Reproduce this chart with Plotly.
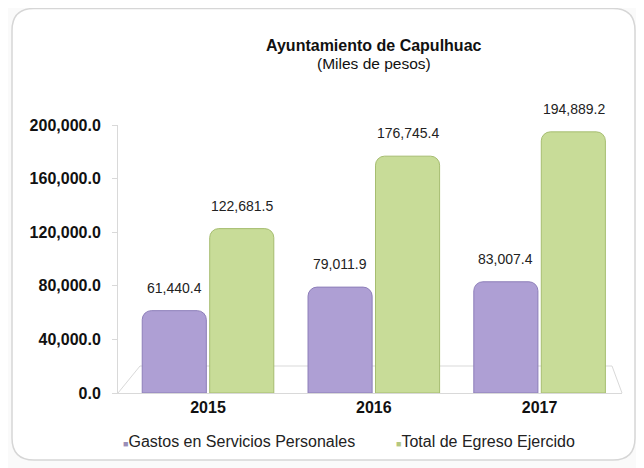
import plotly.graph_objects as go

years = ["2015", "2016", "2017"]
gastos = [61440.4, 79011.9, 83007.4]
total = [122681.5, 176745.4, 194889.2]
gastos_labels = ["61,440.4", "79,011.9", "83,007.4"]
total_labels = ["122,681.5", "176,745.4", "194,889.2"]
y_ticks = [0, 40000, 80000, 120000, 160000, 200000]
y_tick_text = ["0.0", "40,000.0", "80,000.0", "120,000.0", "160,000.0", "200,000.0"]
series_names = ["Gastos en Servicios Personales", "Total de Egreso Ejercido"]
colors = ["#ae9fd4", "#c8dc98"]
edge_colors = ["#8d7eb9", "#a6bd70"]
legend_sq_colors = ["#9a8fb8", "#b5c77f"]

FONT = "Arial, Liberation Sans, sans-serif"
W, H = 644, 468
OFF = 8  # page body margin: screen px = figure px + OFF
SX0, SX1, SY0, SY1 = 118, 622, 125, 393
L, R = SX0 - OFF, W - (SX1 - OFF)
T, B = SY0 - OFF, H - (SY1 - OFF)
PW, PH = SX1 - SX0, SY1 - SY0


def xp(sx):
    return (sx - SX0) / PW


def yp(sy):
    return (SY1 - sy) / PH


fig = go.Figure()
for vals, labels, name, col, ecol, shift in [
    (gastos, gastos_labels, series_names[0], colors[0], edge_colors[0], -34),
    (total, total_labels, series_names[1], colors[1], edge_colors[1], 34),
]:
    fig.add_trace(go.Bar(
        x=years, y=vals, name=name, showlegend=False,
        marker=dict(color=col, line=dict(color=ecol, width=1)),
    ))
    for i, (v, lab) in enumerate(zip(vals, labels)):
        fig.add_annotation(x=i, y=v, text=lab, showarrow=False, xshift=shift,
                           yshift=23, yanchor="middle",
                           font=dict(size=14, family=FONT, color="#222222"))

px0, py0, px1, py1, rr = 12, OFF + 0.5, 635, 460, 22
x0, x1 = xp(px0), xp(px1)
y0, y1 = yp(py1), yp(py0)
rx, ry = rr / PW, rr / PH
path = (f"M {x0+rx},{y1} L {x1-rx},{y1} Q {x1},{y1} {x1},{y1-ry} "
        f"L {x1},{y0+ry} Q {x1},{y0} {x1-rx},{y0} L {x0+rx},{y0} "
        f"Q {x0},{y0} {x0},{y0+ry} L {x0},{y1-ry} Q {x0},{y1} {x0+rx},{y1} Z")

floor_col = "#d9d9d9"
shapes = [
    dict(type="path", path=path, xref="paper", yref="paper",
         fillcolor="#ffffff", line=dict(color="#d6d6d6", width=1.5), layer="below"),
    dict(type="line", xref="paper", yref="paper", x0=xp(118), y0=yp(393), x1=xp(140), y1=yp(366),
         line=dict(color=floor_col, width=1), layer="below"),
    dict(type="line", xref="paper", yref="paper", x0=xp(140), y0=yp(366), x1=xp(612), y1=yp(366),
         line=dict(color=floor_col, width=1), layer="below"),
    dict(type="line", xref="paper", yref="paper", x0=xp(612), y0=yp(366), x1=xp(622), y1=yp(393),
         line=dict(color=floor_col, width=1), layer="below"),
]

fig.add_annotation(text="<b>Ayuntamiento de Capulhuac</b>", x=xp(374), y=yp(45), xref="paper",
                   yref="paper", showarrow=False, yanchor="middle",
                   font=dict(size=16, family=FONT, color="#111111"))
fig.add_annotation(text="(Miles de pesos)", x=xp(374), y=yp(64), xref="paper", yref="paper",
                   showarrow=False, yanchor="middle",
                   font=dict(size=15.5, family=FONT, color="#111111"))
legend_x = [121, 394]
for name, sq, lx in zip(series_names, legend_sq_colors, legend_x):
    fig.add_annotation(
        text=f"<span style='color:{sq};font-size:9px'>■</span>{name}",
        x=xp(lx), y=yp(441), xref="paper", yref="paper", xanchor="left", yanchor="middle",
        showarrow=False, font=dict(size=16, family=FONT, color="#222222"))

fig.update_layout(
    width=W, height=H,
    paper_bgcolor="#fafafa", plot_bgcolor="rgba(0,0,0,0)",
    margin=dict(l=L, r=R, t=T, b=B),
    barmode="group", bargap=0.186, bargroupgap=0.05, barcornerradius=9,
    font=dict(family=FONT, color="#111111"),
    shapes=shapes, showlegend=False,
    xaxis=dict(range=[-0.543, 2.497], showline=True, linecolor=floor_col, ticks="",
               tickfont=dict(size=16, family=FONT, color="#111111"),
               tickprefix="<b>", ticksuffix="</b>", ticklabelstandoff=0),
    yaxis=dict(range=[0, 200000], tickvals=y_ticks, ticktext=[f"<b>{t}</b>" for t in y_tick_text],
               showgrid=False, showline=True, linecolor=floor_col, ticks="outside",
               ticklen=5, tickcolor=floor_col, zeroline=False,
               tickfont=dict(size=16, family=FONT, color="#111111"),
               ticklabelstandoff=8),
)

fig.write_html("out.html")
